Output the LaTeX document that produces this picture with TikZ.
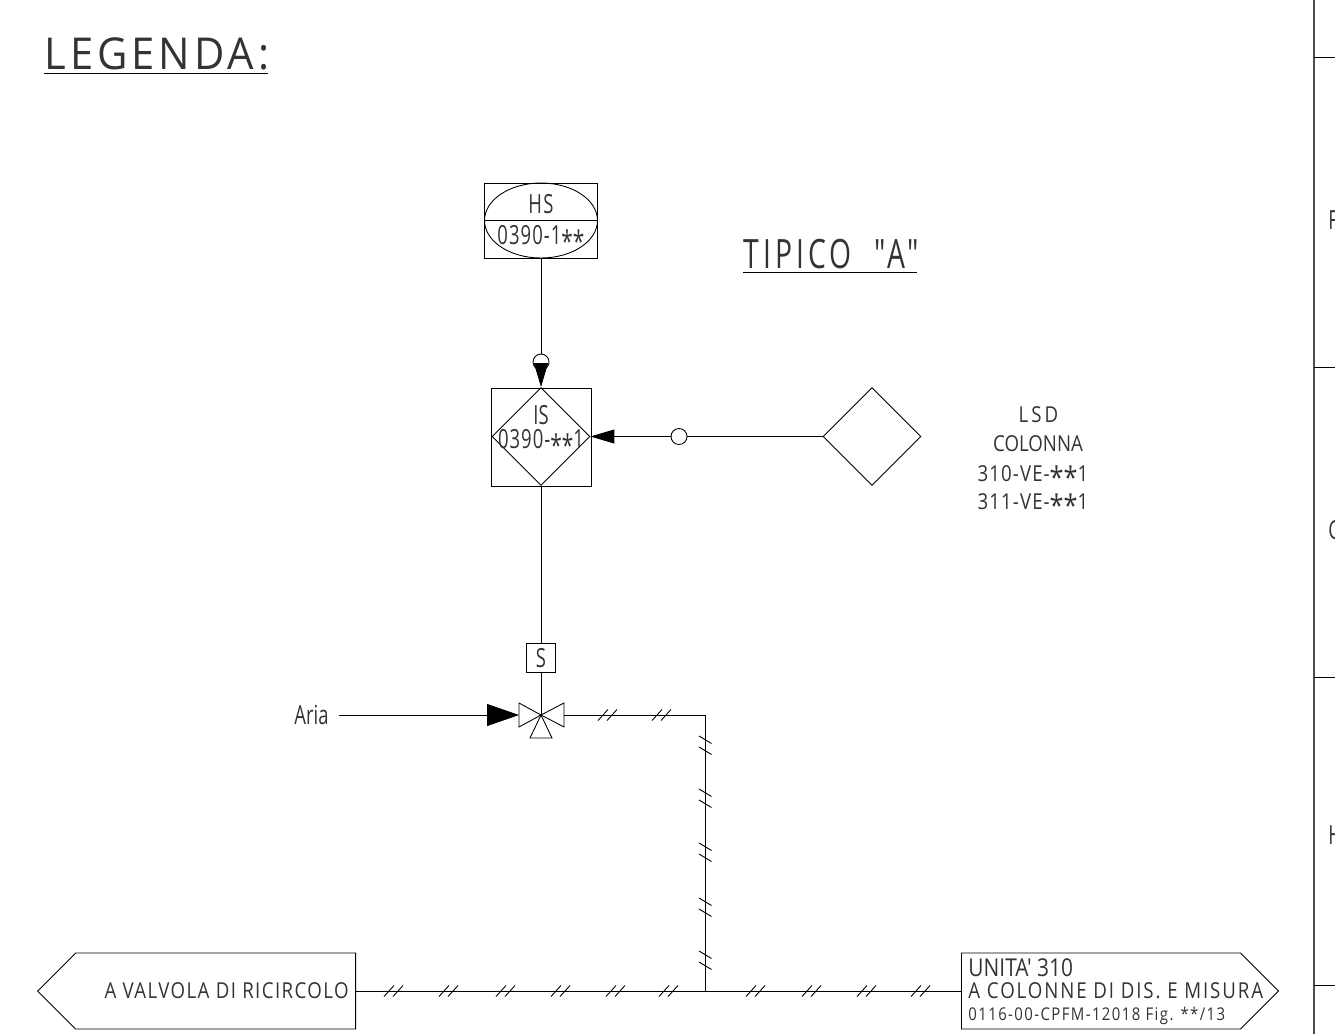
\documentclass[tikz,border=0pt]{standalone}
\usepackage{fontspec}
\usetikzlibrary{positioning}
\usetikzlibrary{arrows.meta}
\usetikzlibrary{shapes.geometric}
\usetikzlibrary{shapes.symbols}
\newfontfamily\cadfont[FakeStretch=0.7]{Open Sans}
\newfontfamily\cadflag[FakeStretch=0.85]{Open Sans}
\newfontfamily\cadwide[FakeStretch=0.7,LetterSpace=10]{Open Sans}
\newfontfamily\cadtitle[FakeStretch=0.95,LetterSpace=9]{Open Sans}
\newcommand{\cadstar}{\smash{\raisebox{-0.62ex}{\fontsize{17}{17}\selectfont *}}}
\tikzset{cadtxt/.style={inner sep=0pt, anchor=base, text=black!80, font=\cadfont\fontsize{15}{17}\selectfont}}
\tikzset{cadlow/.style={cadtxt, font=\cadflag\fontsize{12.5}{14}\selectfont}}
\tikzset{cadbig/.style={inner sep=0pt, anchor=base west, text=black!80, font=\cadwide\fontsize{23}{25}\selectfont}}
\tikzset{bubble/.style={draw, circle, minimum size=0.32cm, inner sep=0pt}}
\tikzset{tank/.style={draw, diamond, shape aspect=1, inner sep=0pt, minimum size=1.96cm}}
\tikzset{flag/.style={draw, signal, signal from=nowhere, signal pointer angle=90, inner sep=0pt, minimum height=1.52cm}}
\tikzset{arrowS/.style={-{Triangle[length=0.48cm,width=0.28cm]}}}
\tikzset{hticks/.pic={\draw (-6,5.5) -- (4,-5.5) (3,5.5) -- (13,-5.5);}}
\tikzset{vticks/.pic={\draw (-6,-4) -- (6.5,3.5) (-6,7) -- (6.5,14.5);}}
\begin{document}
\begin{tikzpicture}[x=0.02cm, y=-0.02cm, line width=0.5pt]

\useasboundingbox (0,0) rectangle (1335,1034);

% titles
\node[cadbig, font=\cadtitle\fontsize{25}{27}\selectfont] (legenda) at (44,70) {LEGENDA:};
\draw (44,73) -- (268,73);
\node[cadbig] (tipico) at (743,268) {TIPICO \ "A"};
\draw (743,272) -- (917,272);

% hand switch
\node[draw, minimum width=2.26cm, minimum height=1.5cm, inner sep=0pt] (hsbox) at (541,220.5) {};
\node[draw, ellipse, minimum width=2.26cm, minimum height=1.5cm, inner sep=0pt] (hsell) at (541,220.5) {};
\draw (hsell.west) -- (hsell.east);
\node[cadtxt] (hstag) at (541,213) {\addfontfeature{LetterSpace=5}HS};
\node[cadtxt] (hsnum) at (541,244) {\addfontfeature{LetterSpace=4}0390-1\cadstar\cadstar};

% interlock
\node[draw, minimum width=2.01cm, minimum height=1.96cm, inner sep=0pt] (isbox) at (541.5,437) {};
\draw[line width=1pt] (isbox.south west) -- (isbox.south east);
\node[tank] (isdiam) at (541,436.5) {};
\node[cadtxt] (istag) at (541,424) {IS};
\node[cadtxt] (isnum) at (541,448) {\addfontfeature{LetterSpace=4}0390-\cadstar\cadstar 1};
\node[bubble] (bubtop) at (541,362) {};
\draw (hsbox.south) -- (bubtop.north);
\draw[arrowS] (bubtop.south) -- (isdiam.north);

% level switch
\node[tank] (lsd) at (872,436.5) {};
\node[bubble] (bubright) at (679,436.5) {};
\draw (lsd.west) -- (bubright.east);
\draw[arrowS] (bubright.west) -- (isdiam.east);
\node[cadlow] (lsdtag) at (1038.5,422) {\addfontfeature{LetterSpace=14}LSD};
\node[cadlow] (lsdcol) at (1038,451) {COLONNA};
\node[cadlow] (lsdve1) at (1033,481) {\addfontfeature{LetterSpace=5}310-VE-\cadstar\cadstar 1};
\node[cadlow] (lsdve2) at (1033,509) {\addfontfeature{LetterSpace=5}311-VE-\cadstar\cadstar 1};

% solenoid valve
\node[draw, minimum size=0.57cm, cadtxt, anchor=center] (sol) at (541,658) {S};
\coordinate (valve) at (541,715);
\coordinate (valveL) at (519,715);
\coordinate (valveR) at (564,715);
\draw (isdiam.south) -- (sol.north);
\draw (sol.south) -- (valve);
\draw (valveL |- 0,703) -- (valveL |- 0,727) -- (valve) -- cycle;
\draw (valveR |- 0,703) -- (valveR |- 0,727) -- (valve) -- cycle;
\draw (valve) -- (530,738) -- (552,738) -- cycle;
\node[cadtxt, anchor=east, inner xsep=0.2cm] (aria) at (339,715) {Aria};
\draw[-{Triangle[length=0.64cm,width=0.44cm]}] (aria.east) -- (valveL);

% signal lines
\coordinate (corner) at (705,715);
\coordinate (junct) at (705,991);
\draw (valveR) -- (corner) -- (junct);
\node[flag, signal to=west, minimum width=6.36cm, anchor=east] (flagL) at (356,991) {};
\node[flag, signal to=east, minimum width=6.34cm, anchor=west] (flagR) at (961,991) {};
\draw (flagL.east) -- (flagR.west);
\foreach \tx in {604,658} \pic at (\tx,715) {hticks};
\foreach \tx in {390,445,502,557,612,665,752,808,863,917} \pic at (\tx,991) {hticks};
\foreach \ty in {740,793,847,902,955} \pic at (705,\ty) {vticks};

% flag texts
\node[cadlow, anchor=base east] (flagLtxt) at (349,998) {\addfontfeature{LetterSpace=6.4}A VALVOLA DI RICIRCOLO};
\node[cadlow, anchor=base west, font=\cadflag\fontsize{14}{16}\selectfont] (flagRa) at (968,976.5) {UNITA' 310};
\node[cadlow, anchor=base west] (flagRb) at (968,998) {\addfontfeature{LetterSpace=8.6}A COLONNE DI DIS. E MISURA};
\node[cadlow, anchor=base west, font=\cadflag\fontsize{10}{12}\selectfont] (flagRc) at (968,1020) {\addfontfeature{LetterSpace=8}0116-00-CPFM-12018 Fig. **/13};

% title block edge
\draw[line width=1pt, black!70] (1314,0) -- (1314,1034);
\foreach \by in {57,367,677,985} \draw (1314,\by) -- (1335,\by);
\node[cadtxt, anchor=west] (rowF) at (1328,220) {F};
\node[cadtxt, anchor=west] (rowG) at (1328,530) {G};
\node[cadtxt, anchor=west] (rowH) at (1328,835) {H};

\end{tikzpicture}
\end{document}
